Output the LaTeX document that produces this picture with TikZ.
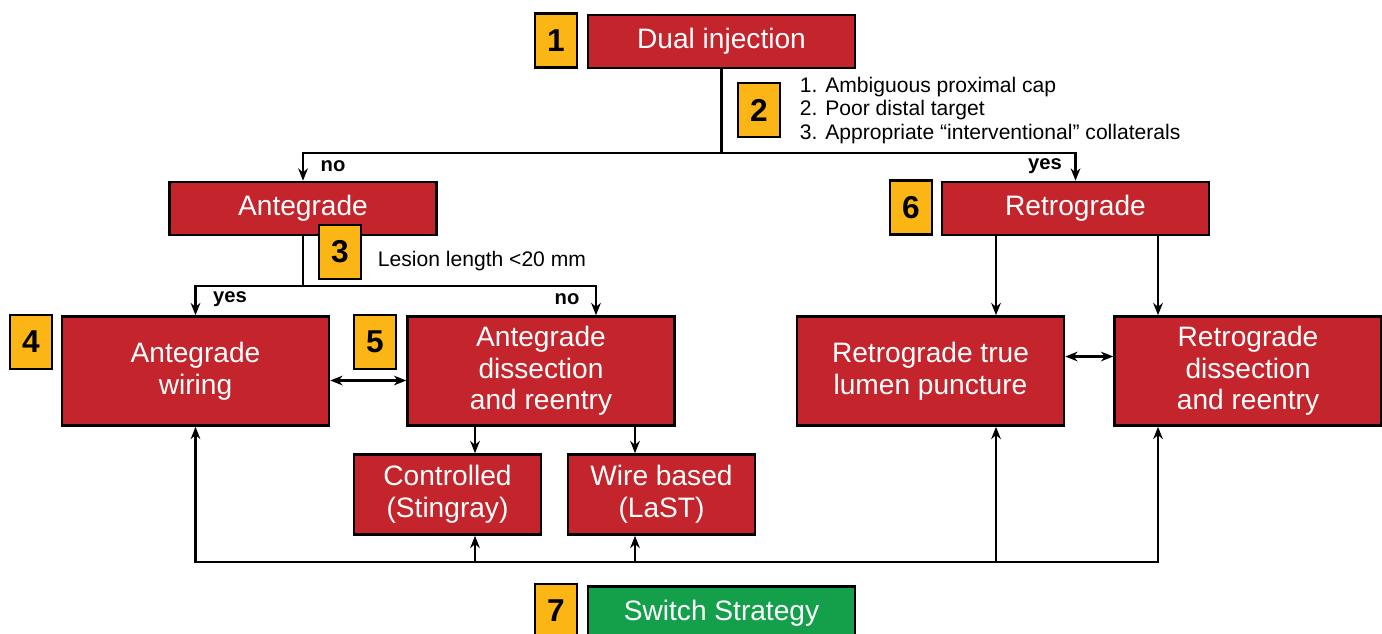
\documentclass[tikz,border=0pt]{standalone}
\usepackage{fontspec}
\setmainfont{Liberation Sans}
\usetikzlibrary{arrows.meta}
\definecolor{boxred}{RGB}{196,36,43}
\definecolor{boxyellow}{RGB}{251,182,21}
\definecolor{boxgreen}{RGB}{20,160,74}

\begin{document}
\begin{tikzpicture}[x=0.02cm,y=-0.02cm,line width=1.25pt,>={Stealth[length=7pt,width=5.5pt]},
	box/.style={draw,line width=1.5pt,fill=boxred,text=white,align=center,inner sep=0pt,font=\fontsize{16}{18}\selectfont},
	wide/.style={box,minimum width=5.34cm,minimum height=1.06cm},
	tall/.style={box,minimum width=5.34cm,minimum height=2.18cm},
	small/.style={box,minimum width=3.74cm,minimum height=1.6cm},
	num/.style={draw,line width=1.5pt,fill=boxyellow,minimum width=0.84cm,minimum height=1.08cm,inner sep=0pt,font=\fontsize{18}{18}\selectfont\bfseries},
	lbl/.style={font=\fontsize{11.5}{12}\selectfont\bfseries},
	note/.style={anchor=west,align=left,font=\fontsize{12}{13.4}\selectfont}]
			\useasboundingbox (0,0) rectangle (1382,633);

			\node[wide] (dual) at (721.5,41.5) {Dual injection};
			\node[wide] (ante) at (303,208.5) {Antegrade};
			\node[wide] (retro) at (1075.5,208.5) {Retrograde};
			\node[tall] (aw) at (195.5,371) {Antegrade\\wiring};
			\node[tall] (adr) at (541,371) {Antegrade\\dissection\\and reentry};
			\node[tall] (rtlp) at (930.5,371) {Retrograde true\\lumen puncture};
			\node[tall] (rdr) at (1248,371) {Retrograde\\dissection\\and reentry};
			\node[small] (ctrl) at (447.5,494.5) {Controlled\\(Stingray)};
			\node[small] (wire) at (661.5,494.5) {Wire based\\(LaST)};
			\node[wide,fill=boxgreen] (switch) at (721.5,613) {Switch Strategy};

			\node[num] (n1) at (556,40.5) {1};
			\node[num] (n2) at (759,110) {2};
			\node[num] (n3) at (340,252) {3};
			\node[num] (n4) at (31,342) {4};
			\node[num] (n5) at (375,342) {5};
			\node[num] (n6) at (911,207.5) {6};
			\node[num] (n7) at (556,611) {7};

			\node[note] (crit) at (793,110.5) {1. Ambiguous proximal cap\\2. Poor distal target\\3. Appropriate “interventional” collaterals};
			\node[note] (len) at (371,261.5) {Lesion length <20 mm};
			\node[lbl] (no1) at (333,166) {no};
			\node[lbl] (yes1) at (1045,166) {yes};
			\node[lbl] (yes2) at (230,299) {yes};
			\node[lbl] (no2) at (567,299) {no};

			\coordinate (s1) at (721.5,153);
			\coordinate (s2) at (303,286);
			\coordinate (c1) at (475,562);
			\coordinate (c2) at (635,562);
			\coordinate (c3) at (996,562);
			\coordinate (c4) at (1158,562);

			\draw (dual) -- (s1);
			\draw[->] (s1) -| (ante);
			\draw[->] (s1) -| (retro);
			\draw (ante) -- (s2);
			\draw[->] (s2) -| (aw);
			\draw[->] (s2) -| ([xshift=1.1cm]adr.north);
			\draw[<->] ([yshift=-0.19cm]aw.east) -- ([yshift=-0.19cm]adr.west);
			\draw[<->] ([yshift=0.29cm]rtlp.east) -- ([yshift=0.29cm]rdr.west);
			\draw[->] (adr.south -| c1) -- (ctrl.north -| c1);
			\draw[->] (adr.south -| c2) -- (wire.north -| c2);
			\draw[->] (retro.south -| c3) -- (rtlp.north -| c3);
			\draw[->] (retro.south -| c4) -- (rdr.north -| c4);
			\draw[<->] (aw.south) |- (c4) -- (rdr.south -| c4);
			\draw[->] (c1) -- (ctrl.south -| c1);
			\draw[->] (c2) -- (wire.south -| c2);
			\draw[->] (c3) -- (rtlp.south -| c3);
		\end{tikzpicture}
\end{document}
